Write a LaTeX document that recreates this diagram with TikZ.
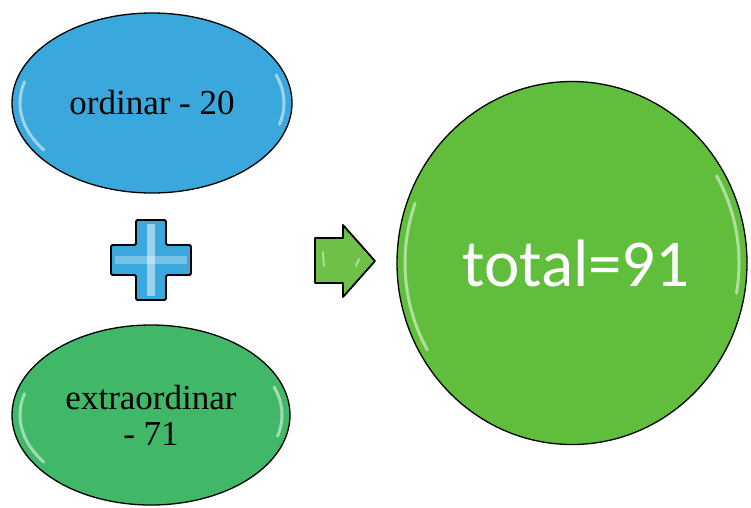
\documentclass[tikz,border=0pt]{standalone}
\usepackage{fontspec}
\setmainfont{Liberation Serif}
\newfontfamily\calib{Carlito}
\usetikzlibrary{shapes.geometric}
\definecolor{cblue}{RGB}{58,168,220}
\definecolor{cgreenA}{RGB}{64,184,104}
\definecolor{cgreenB}{RGB}{96,190,60}
\definecolor{cgreenC}{RGB}{110,192,72}
\tikzset{
  glossy/.style={draw=black, line width=1.3pt},
  hl/.style={white, opacity=0.5, line width=3pt, line cap=round},
}
\begin{document}
\begin{tikzpicture}[x=1pt,y=-1pt]
\useasboundingbox (0,0) rectangle (751,507);
% top ellipse
\node[ellipse, glossy, fill=cblue, minimum width=280pt, minimum height=180pt, inner sep=0pt,
      font=\fontsize{35}{37}\selectfont, align=center] (ord) at (152,103) {ordinar - 20};
\draw[hl] (152,103) ++(195:132 and 82) arc[start angle=195, end angle=145, x radius=132, y radius=82];
\draw[hl] (152,103) ++(-20:132 and 82) arc[start angle=-20, end angle=15, x radius=132, y radius=82];
% bottom ellipse
\node[ellipse, glossy, fill=cgreenA, minimum width=278pt, minimum height=180pt, inner sep=0pt,
      font=\fontsize{35}{36}\selectfont, align=center] (ext) at (151,415) {extraordinar\\- 71};
\draw[hl] (151,415) ++(195:131 and 82) arc[start angle=195, end angle=145, x radius=131, y radius=82];
\draw[hl] (151,415) ++(-20:131 and 82) arc[start angle=-20, end angle=15, x radius=131, y radius=82];
% total circle
\node[ellipse, glossy, fill=cgreenB, minimum width=350pt, minimum height=363pt, inner sep=0pt,
      text=white, font=\calib\fontsize{67}{69}\selectfont] (tot) at (572,263) {\hspace*{8pt}total=91};
\draw[hl] (572,263) ++(200:167 and 174) arc[start angle=200, end angle=150, x radius=167, y radius=174];
\draw[hl] (572,263) ++(-30:167 and 174) arc[start angle=-30, end angle=10, x radius=167, y radius=174];
% plus sign
\coordinate (pc) at (151,260);
\draw[glossy, line width=1.8pt, fill=cblue, rounded corners=1.5pt]
  (pc) ++(-15,-40) -- ++(30,0) -- ++(0,25) -- ++(25,0) -- ++(0,30) -- ++(-25,0) -- ++(0,25)
  -- ++(-30,0) -- ++(0,-25) -- ++(-25,0) -- ++(0,-30) -- ++(25,0) -- cycle;
\fill[white, opacity=0.5] (pc) ++(-4,-36) rectangle ++(8,72);
\fill[white, opacity=0.3] (pc) ++(-36,-4) rectangle ++(72,8);
% arrow
\draw[glossy, line width=1.8pt, fill=cgreenC, line join=round]
  (315,238) -- (343,238) -- (343,225) -- (375,261) -- (343,297) -- (343,283) -- (315,283) -- cycle;
\draw[hl, line width=1.8pt] (323,252) -- (324,266);
\draw[hl, line width=1.8pt] (356,266) -- (359,259);
\end{tikzpicture}
\end{document}
